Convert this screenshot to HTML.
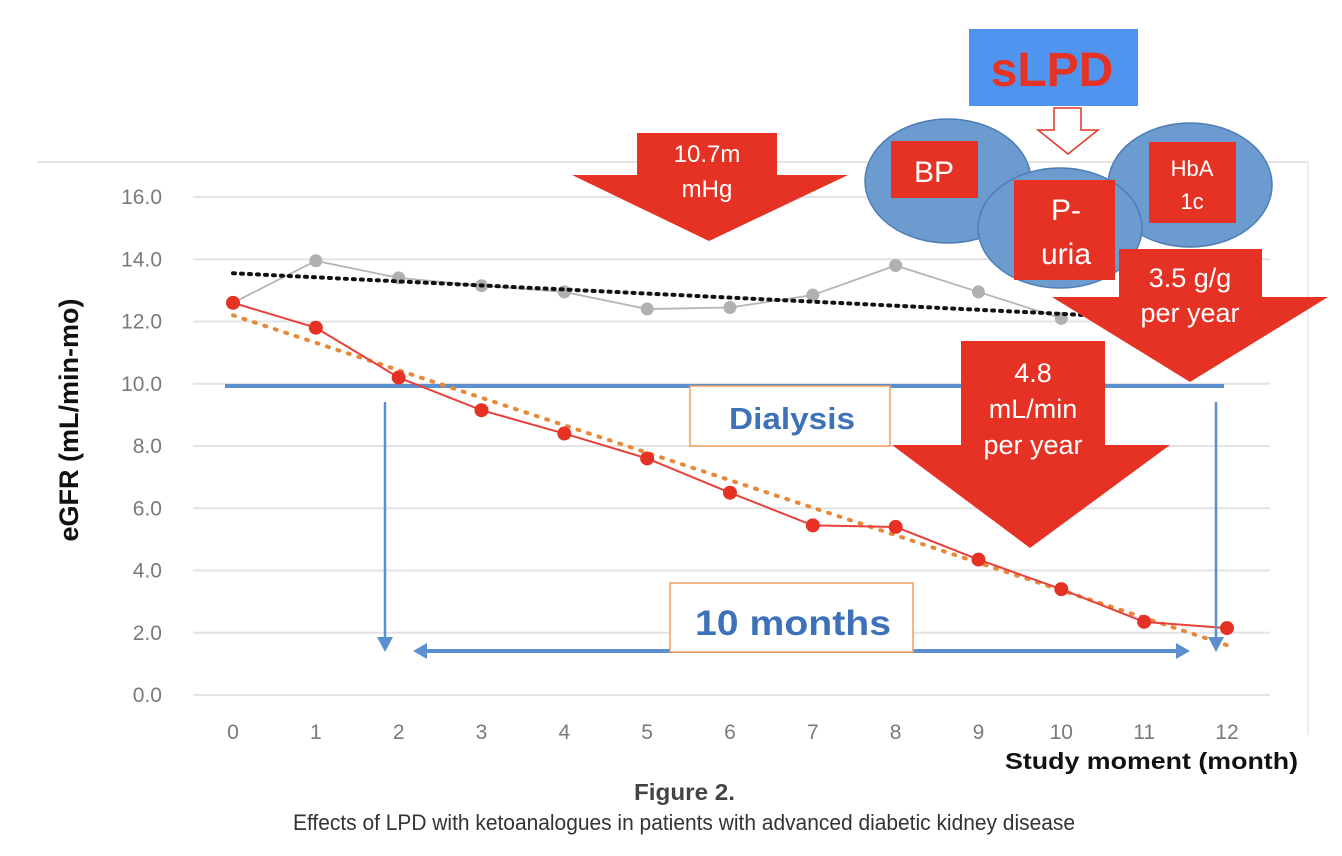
<!DOCTYPE html>
<html><head><meta charset="utf-8"><style>
body{margin:0;width:1342px;height:856px;background:#fff;overflow:hidden;font-family:"Liberation Sans",sans-serif}
svg{position:absolute;left:0;top:0}
</style></head><body>
<svg width="1342" height="856" viewBox="0 0 1342 856">
<g id="grid"></g>
<g id="ylabels"></g>
<g id="xlabels"></g>
<line x1="37" y1="162" x2="1308" y2="162" stroke="#e4e4e4" stroke-width="2"/>
<line x1="1308" y1="162" x2="1308" y2="735" stroke="#ececec" stroke-width="2"/>
<text x="78" y="420" transform="rotate(-90 78 420)" text-anchor="middle" font-size="27" font-weight="bold" fill="#111">eGFR (mL/min-mo)</text>
<text x="1005" y="769" font-size="23" font-weight="bold" fill="#111" textLength="293" lengthAdjust="spacingAndGlyphs">Study moment (month)</text>
<line x1="225" y1="386" x2="1224" y2="386" stroke="#5b8fd0" stroke-width="4"/>
<g id="series"></g>
<g fill="#5b8fd0" stroke="#5b8fd0">
<line x1="385" y1="402" x2="385" y2="640" stroke-width="2.5"/><polygon points="377,637 393,637 385,652" stroke="none"/>
<line x1="1216" y1="402" x2="1216" y2="640" stroke-width="2.5"/><polygon points="1208,637 1224,637 1216,652" stroke="none"/>
<line x1="425" y1="651" x2="1178" y2="651" stroke-width="4"/>
<polygon points="413,651 427,643 427,659" stroke="none"/><polygon points="1190,651 1176,643 1176,659" stroke="none"/>
</g>
<rect x="690" y="386" width="200" height="60" fill="#fff" stroke="#f0a060" stroke-width="1.5"/>
<text x="792" y="429" text-anchor="middle" font-size="31" font-weight="bold" fill="#3d72b8" textLength="126" lengthAdjust="spacingAndGlyphs">Dialysis</text>
<rect x="670" y="583" width="243" height="69" fill="#fff" stroke="#f0a060" stroke-width="1.5"/>
<text x="793" y="635" text-anchor="middle" font-size="35" font-weight="bold" fill="#3d72b8" textLength="196" lengthAdjust="spacingAndGlyphs">10 months</text>
<g>
<polygon points="637,133 777,133 777,175 848,175 709,241 572,175 637,175" fill="#e63224"/>
<text x="707" y="162" text-anchor="middle" font-size="24" fill="#fff">10.7m</text>
<text x="707" y="197" text-anchor="middle" font-size="24" fill="#fff">mHg</text>
</g>
<rect x="969" y="29" width="169" height="77" fill="#4f95f0"/>
<text x="1052" y="86" text-anchor="middle" font-size="48" font-weight="bold" fill="#e63224">sLPD</text>
<polygon points="1054,108 1081,108 1081,130 1098,130 1068,154 1038,130 1054,130" fill="#fff" stroke="#e63224" stroke-width="1.5"/>
<g stroke="#4e7db5" stroke-width="1.5" fill="#6c9bd0">
<ellipse cx="948" cy="181" rx="83" ry="62"/>
<ellipse cx="1190" cy="185" rx="82" ry="62"/>
<ellipse cx="1060" cy="228" rx="82" ry="60"/>
</g>
<rect x="891" y="141" width="87" height="57" fill="#e63224"/>
<text x="934" y="182" text-anchor="middle" font-size="30" fill="#fff">BP</text>
<rect x="1149" y="142" width="87" height="81" fill="#e63224"/>
<text x="1192" y="176" text-anchor="middle" font-size="22" fill="#fff">HbA</text>
<text x="1192" y="209" text-anchor="middle" font-size="22" fill="#fff">1c</text>
<rect x="1014" y="180" width="101" height="100" fill="#e63224"/>
<text x="1066" y="220" text-anchor="middle" font-size="30" fill="#fff">P-</text>
<text x="1066" y="264" text-anchor="middle" font-size="30" fill="#fff">uria</text>
<g>
<polygon points="1119,249 1262,249 1262,297 1328,297 1190,382 1052,297 1119,297" fill="#e63224"/>
<text x="1190" y="287" text-anchor="middle" font-size="27" fill="#fff">3.5 g/g</text>
<text x="1190" y="322" text-anchor="middle" font-size="27" fill="#fff">per year</text>
</g>
<g>
<polygon points="961,341 1105,341 1105,445 1170,445 1030,548 892,445 961,445" fill="#e63224"/>
<text x="1033" y="382" text-anchor="middle" font-size="27" fill="#fff">4.8</text>
<text x="1033" y="418" text-anchor="middle" font-size="27" fill="#fff">mL/min</text>
<text x="1033" y="454" text-anchor="middle" font-size="27" fill="#fff">per year</text>
</g>
<text x="634" y="800" font-size="23" font-weight="bold" fill="#444" textLength="101" lengthAdjust="spacingAndGlyphs">Figure 2.</text>
<text x="293" y="830" font-size="22" fill="#333" textLength="782" lengthAdjust="spacingAndGlyphs">Effects of LPD with ketoanalogues in patients with advanced diabetic kidney disease</text>
</svg>
<script>
const months=[0,1,2,3,4,5,6,7,8,9,10,11,12];
const lpdValues=[12.6,11.8,10.2,9.15,8.4,7.6,6.5,5.45,5.4,4.35,3.4,2.35,2.15];
const controlMonths=[0,1,2,3,4,5,6,7,8,9,10];
const controlValues=[12.6,13.95,13.4,13.15,12.95,12.4,12.45,12.85,13.8,12.95,12.1];
const controlTrend=[13.55,12.05];
const controlTrendMonths=[0,11.5];
const lpdTrend=[12.2,1.6];
const lpdTrendMonths=[0,12];
const yTicks=[0,2,4,6,8,10,12,14,16];
const yTickLabels=["0.0","2.0","4.0","6.0","8.0","10.0","12.0","14.0","16.0"];
const xTickLabels=["0","1","2","3","4","5","6","7","8","9","10","11","12"];
const NS="http://www.w3.org/2000/svg";
const X=m=>233+m*82.83, Y=v=>695-v*31.125;
function mk(tag,attrs,parent){const e=document.createElementNS(NS,tag);for(const k in attrs)e.setAttribute(k,attrs[k]);parent.appendChild(e);return e;}
const grid=document.getElementById('grid'),yl=document.getElementById('ylabels'),xl=document.getElementById('xlabels'),ser=document.getElementById('series');
yTicks.forEach((t,i)=>{
 const l=mk('line',{x1:193,x2:1270,y1:Y(t),y2:Y(t),stroke:'#e3e3e3','stroke-width':2},grid);
 
 
 const tx=mk('text',{x:162,y:Y(t)+7,'text-anchor':'end','font-size':21,fill:'#7a7a7a'},yl);
 tx.textContent=yTickLabels[i];
 
 
});
xTickLabels.forEach((s,i)=>{
 const tx=mk('text',{x:X(months[i]),y:739,'text-anchor':'middle','font-size':21,fill:'#7a7a7a'},xl);
 tx.textContent=s;
 
 
});
const cp=mk('polyline',{points:controlMonths.map((m,i)=>X(m)+','+Y(controlValues[i])).join(' '),fill:'none',stroke:'#b5b5b5','stroke-width':1.8},ser);


controlMonths.forEach((m,i)=>{const c=mk('circle',{cx:X(m),cy:Y(controlValues[i]),r:6.5,fill:'#b0b0b0'},ser);
 
 });
const ct=mk('line',{x1:X(controlTrendMonths[0]),y1:Y(controlTrend[0]),x2:X(controlTrendMonths[1]),y2:Y(controlTrend[1]),stroke:'#111','stroke-width':4,'stroke-dasharray':'2 6','stroke-linecap':'round'},ser);


const lt=mk('line',{x1:X(lpdTrendMonths[0]),y1:Y(lpdTrend[0]),x2:X(lpdTrendMonths[1]),y2:Y(lpdTrend[1]),stroke:'#e8893a','stroke-width':4,'stroke-dasharray':'2 9','stroke-linecap':'round'},ser);


const lp=mk('polyline',{points:months.map((m,i)=>X(m)+','+Y(lpdValues[i])).join(' '),fill:'none',stroke:'#e8403a','stroke-width':2},ser);


months.forEach((m,i)=>{const c=mk('circle',{cx:X(m),cy:Y(lpdValues[i]),r:7,fill:'#e63224'},ser);
 
 });
</script>
</body></html>
